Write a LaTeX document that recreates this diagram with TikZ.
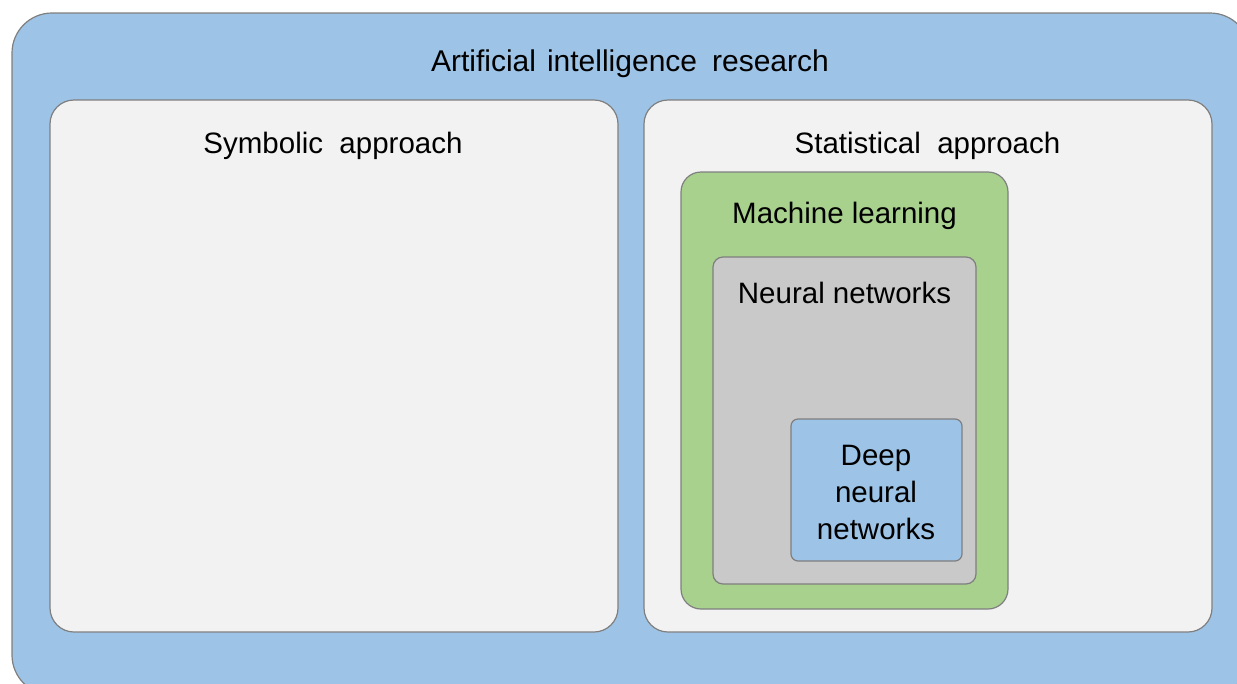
\documentclass[tikz,border=0pt]{standalone}
\usepackage{fontspec}
\setmainfont{Liberation Sans}
\definecolor{aiblue}{HTML}{9DC3E6}
\definecolor{panelgray}{HTML}{F2F2F2}
\definecolor{mlgreen}{HTML}{A9D18E}
\definecolor{nngray}{HTML}{C9C9C9}
\definecolor{edgegray}{HTML}{7F7F7F}
\tikzset{
  box/.style={draw=edgegray, line width=1.2pt},
  lbl/.style={inner sep=0pt, anchor=base, font=\fontsize{29.5}{37}\selectfont, align=center, text=black}
}
\begin{document}
\begin{tikzpicture}[x=1pt,y=-1pt]
\useasboundingbox (0,0) rectangle (1237,683);
\clip (0,0) rectangle (1237,683);
\draw[box, fill=aiblue, rounded corners=40pt] (12,13) rectangle (1250,695);
\draw[box, fill=panelgray, rounded corners=24pt] (50,100) rectangle (618,632);
\draw[box, fill=panelgray, rounded corners=24pt] (644,100) rectangle (1212,632);
\draw[box, fill=mlgreen, rounded corners=20pt] (681,172) rectangle (1008,609);
\draw[box, fill=nngray, rounded corners=10pt] (713,257) rectangle (976,584);
\draw[box, fill=aiblue, rounded corners=7pt] (791,419) rectangle (962,561);
\node[lbl, font=\fontsize{30}{37}\selectfont] (ai) at (630,71) {Artificial\hspace{11pt}intelligence\hspace{15pt}research};
\node[lbl] (sym) at (333,153) {Symbolic\ \ approach};
\node[lbl] (stat) at (927.5,153) {Statistical\ \ approach};
\node[lbl] (ml) at (844.5,223) {Machine learning};
\node[lbl] (nn) at (844.5,303) {Neural networks};
\node[lbl] (d1) at (876,465) {Deep};
\node[lbl] (d2) at (876,502) {neural};
\node[lbl] (d3) at (876,539) {networks};
\end{tikzpicture}
\end{document}
